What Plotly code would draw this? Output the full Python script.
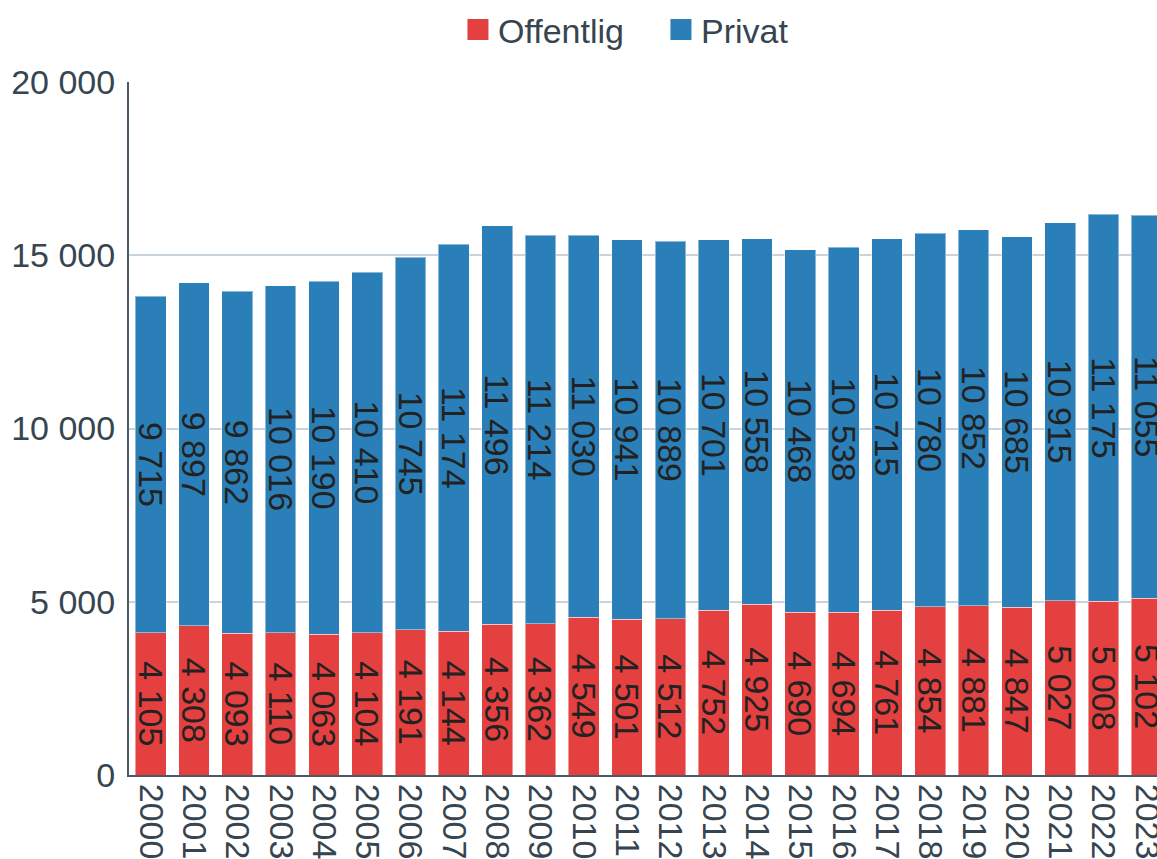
import plotly.graph_objects as go

years = [str(y) for y in range(2000, 2024)]
offentlig = [4105, 4308, 4093, 4110, 4063, 4104, 4191, 4144, 4356, 4362, 4549, 4501,
             4512, 4752, 4925, 4690, 4694, 4761, 4854, 4881, 4847, 5027, 5008, 5102]
privat = [9715, 9897, 9862, 10016, 10190, 10410, 10745, 11174, 11496, 11214, 11030, 10941,
          10889, 10701, 10558, 10468, 10538, 10715, 10780, 10852, 10685, 10915, 11175, 11055]

RED = "#e4403f"
BLUE = "#2a7fb8"
AXIS_TXT = "#36454f"
FONT = "Liberation Sans, Arial, sans-serif"

fig = go.Figure()
for name, vals, col in [("Offentlig", offentlig, RED), ("Privat", privat, BLUE)]:
    fig.add_trace(go.Bar(
        x=years, y=vals, name=name, showlegend=False,
        marker=dict(color=col, line=dict(color="rgba(255,255,255,0.45)", width=1)),
        texttemplate="%{y:,}", textposition="inside", insidetextanchor="middle",
        textangle=90, textfont=dict(size=34, color="#222222", family=FONT),
        width=0.71,
    ))
    fig.add_trace(go.Scatter(
        x=[None], y=[None], mode="markers", name=name,
        marker=dict(symbol="square", size=16, color=col, line=dict(color=col, width=5)),
    ))

fig.update_layout(
    barmode="stack",
    width=1157, height=859,
    margin=dict(l=129, r=0, t=82, b=84, autoexpand=False),
    paper_bgcolor="white", plot_bgcolor="white",
    separators=", ",
    font=dict(family=FONT, size=34, color=AXIS_TXT),
    uniformtext=dict(minsize=34, mode="show"),
    legend=dict(orientation="h", x=0.320, xanchor="left", y=1.117, yanchor="top",
                font=dict(size=34, color=AXIS_TXT), itemsizing="trace",
                traceorder="normal", entrywidth=158,
                bgcolor="rgba(0,0,0,0)"),
    bargap=0.29,
)
fig.update_xaxes(
    type="category", range=[-0.5, 23.235], tickangle=90, automargin=False,
    showline=True, linecolor="#4a5a66", linewidth=2, showgrid=False,
    tickfont=dict(size=34, color=AXIS_TXT), ticks="", ticklabelstandoff=0,
)
fig.update_yaxes(
    range=[0, 20000], tickvals=[0, 5000, 10000, 15000, 20000], tickformat=",",
    automargin=False, showline=True, linecolor="#4a5a66", linewidth=2,
    gridcolor="#c9d3dc", gridwidth=1.5, zeroline=False,
    tickfont=dict(size=34, color=AXIS_TXT), ticks="", ticklabelstandoff=5,
)

fig.write_html("out.html", config={"displayModeBar": False},
               post_script="document.body.style.margin='0';document.body.style.overflow='hidden';")
